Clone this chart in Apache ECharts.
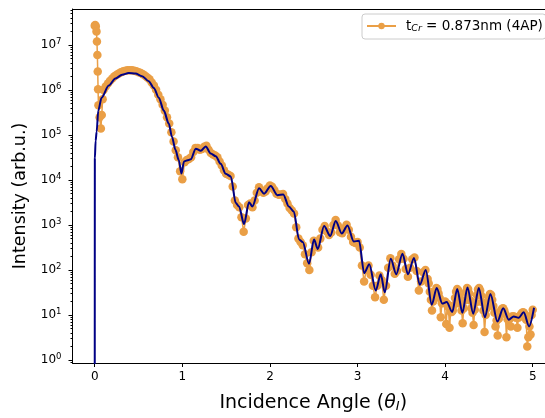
<!DOCTYPE html>
<html><head><meta charset="utf-8">
<script src="https://cdn.jsdelivr.net/npm/echarts@6/dist/echarts.min.js"></script>
<style>html,body{margin:0;padding:0;background:#fff}#c{width:545px;height:418px}</style>
</head><body><div id="c"></div>
<script>
// ---- values ----
const xTickValues = [0, 1, 2, 3, 4, 5];
const yTickExponents = [0, 1, 2, 3, 4, 5, 6, 7];
const seriesName = 'tCr = 0.873nm (4AP)';

// measured reflectivity [angle, intensity]
const measured = [
  [0.000,2.7e7],[0.005,2.8e7],[0.012,2.6e7],[0.020,2.0e7],[0.025,1.2e7],[0.030,6.0e6],[0.034,2.6e6],[0.038,1.05e6],
  [0.042,4.6e5],[0.055,2.5e5],[0.070,1.4e5],[0.080,2.8e5],[0.090,6.3e5],[0.100,1.0e6],
  [0.125,1.2e6],[0.150,1.41e6],[0.175,1.62e6],[0.200,1.82e6],[0.225,2.04e6],[0.250,2.19e6],[0.275,2.34e6],[0.300,2.51e6],
  [0.325,2.63e6],[0.350,2.69e6],[0.375,2.75e6],[0.400,2.75e6],[0.425,2.75e6],[0.450,2.69e6],[0.475,2.63e6],[0.500,2.51e6],
  [0.525,2.40e6],[0.550,2.24e6],[0.575,2.09e6],[0.600,1.91e6],[0.625,1.74e6],[0.650,1.48e6],[0.675,1.26e6],[0.700,1.02e6],
  [0.725,7.9e5],[0.750,6.3e5],[0.775,4.7e5],[0.800,3.5e5],[0.825,2.5e5],[0.850,1.82e5],[0.875,1.15e5],[0.900,7.2e4],
  [0.925,4.6e4],[0.950,3.2e4],[0.975,1.58e4],[1.000,1.05e4],[1.025,2.5e4],[1.050,2.8e4],[1.075,2.95e4],[1.100,3.2e4],
  [1.125,4.2e4],[1.150,5.2e4],[1.175,5.2e4],[1.200,4.7e4],[1.225,4.9e4],[1.250,5.5e4],[1.275,5.8e4],[1.300,4.7e4],
  [1.325,4.0e4],[1.350,3.7e4],[1.375,3.5e4],[1.400,3.2e4],[1.425,2.6e4],[1.450,2.1e4],[1.475,1.66e4],[1.500,1.38e4],
  [1.525,1.32e4],[1.550,1.23e4],[1.575,7.2e3],[1.600,3.5e3],[1.625,2.8e3],[1.650,2.5e3],[1.675,1.5e3],[1.700,710],
  [1.725,1.4e3],[1.750,2.8e3],[1.775,3.0e3],[1.800,2.5e3],[1.825,3.5e3],[1.850,5.2e3],[1.875,6.9e3],[1.900,6.0e3],
  [1.925,5.2e3],[1.950,5.6e3],[1.975,6.6e3],[2.000,7.6e3],[2.025,7.1e3],[2.050,6.0e3],[2.075,5.0e3],[2.100,4.7e3],
  [2.125,4.8e3],[2.150,4.9e3],[2.175,3.8e3],[2.200,3.0e3],[2.225,2.4e3],[2.250,2.1e3],[2.275,1.8e3],[2.300,890],
  [2.325,500],[2.350,420],[2.375,355],[2.400,225],[2.425,141],[2.450,100],[2.475,250],[2.500,450],
  [2.525,355],[2.550,316],[2.575,500],[2.600,790],[2.625,950],[2.650,720],[2.675,600],[2.700,680],
  [2.725,1000],[2.750,1290],[2.775,980],[2.800,690],[2.825,660],[2.850,850],[2.875,1020],[2.900,790],
  [2.925,550],[2.950,420],[2.975,400],[3.000,420],[3.025,316],[3.050,126],[3.075,56],[3.100,100],
  [3.125,126],[3.150,79],[3.175,45],[3.200,25],[3.225,45],[3.250,76],[3.275,60],[3.300,22],
  [3.325,45],[3.350,112],[3.375,182],[3.400,126],[3.425,83],[3.450,95],[3.475,174],[3.500,229],
  [3.525,178],[3.550,105],[3.575,71],[3.600,112],[3.625,174],[3.650,191],[3.675,95],[3.700,35],
  [3.725,56],[3.750,89],[3.775,100],
  [3.8000,63],[3.8125,50],[3.8250,33],[3.8375,22],[3.8500,12.6],[3.8625,20],[3.8750,26],[3.8875,34],
  [3.9000,40],[3.9125,38],[3.9250,30],[3.9375,24],[3.9500,8.9],[3.9625,18.2],[3.9750,18.6],[3.9875,19.5],
  [4.0000,20],[4.0125,6.3],[4.0250,17.8],[4.0375,15.1],[4.0500,5.2],[4.0625,11.7],[4.0750,11.7],[4.0875,12.6],
  [4.1000,16.6],[4.1125,24],[4.1250,33],[4.1375,38],[4.1500,35],[4.1625,26],[4.1750,17.8],[4.1875,12.6],
  [4.2000,6.6],[4.2125,14.1],[4.2250,21],[4.2375,32],[4.2500,40],[4.2625,38],[4.2750,30],[4.2875,21],
  [4.3000,14.1],[4.3125,11.2],[4.3250,6.0],[4.3375,13.2],[4.3500,19],[4.3625,28],[4.3750,37],[4.3875,40],
  [4.4000,35],[4.4125,27],[4.4250,19],[4.4375,12.6],[4.4500,4.2],[4.4625,10],[4.4750,14.1],[4.4875,20],
  [4.5000,26],[4.5125,29.5],[4.5250,28],[4.5375,22],[4.5500,15.8],[4.5625,11.2],[4.5750,5.6],[4.5875,7.6],
  [4.6000,3.5],[4.6125,8.3],[4.6250,10.5],[4.6375,12.6],[4.6500,13.8],[4.6625,14.1],[4.6750,12.6],[4.6875,10.5],
  [4.7000,3.2],[4.7125,8.1],[4.7250,7.9],[4.7375,8.3],[4.7500,5.6],[4.7625,9.3],[4.7750,9.3],[4.7875,9.3],
  [4.8000,8.9],[4.8125,8.7],[4.8250,5.2],[4.8375,8.7],[4.8500,9.3],[4.8625,10.2],[4.8750,11],[4.8875,11.5],
  [4.9000,11.2],[4.9125,10],[4.9250,7.9],[4.9375,2.0],[4.9500,3.2],[4.9625,5.6],[4.9750,3.7],[4.9875,10],
  [5.0000,13.2]
];

// fitted curve [angle, intensity]
const fitted = [
  [0.000,0.2],[0.001,3.0e4],[0.010,7.5e4],[0.022,1.2e5],[0.040,3.5e5],[0.078,6.8e5],[0.160,1.26e6],
  [0.236,1.82e6],[0.312,2.19e6],[0.388,2.4e6],[0.465,2.34e6],[0.540,2.04e6],[0.616,1.58e6],[0.674,1.12e6],[0.731,6.8e5],
  [0.788,3.5e5],[0.845,1.8e5],[0.882,9.1e4],[0.921,4.7e4],[0.959,2.8e4],[0.990,1.4e4],[1.019,2.6e4],[1.073,2.8e4],
  [1.096,2.9e4],[1.153,5.0e4],[1.210,4.5e4],[1.267,5.6e4],[1.324,3.9e4],[1.381,3.4e4],[1.438,2.3e4],[1.495,1.38e4],
  [1.553,1.2e4],[1.610,3.1e3],[1.647,2.6e3],[1.704,1.05e3],[1.761,3.2e3],[1.800,2.6e3],[1.876,6.6e3],[1.933,5.0e3],
  [2.009,7.4e3],[2.086,4.6e3],[2.152,4.8e3],[2.215,2.6e3],[2.272,2.0e3],[2.332,480],[2.374,420],[2.446,138],
  [2.503,480],[2.546,295],[2.618,950],[2.688,575],[2.751,1230],[2.820,650],[2.885,980],[2.957,430],
  [3.017,450],[3.076,85],[3.134,135],[3.208,35],[3.265,81],[3.311,32],[3.379,178],[3.442,81],
  [3.513,230],[3.576,81],[3.645,186],[3.710,47],[3.779,100],[3.847,17],[3.904,40],[3.967,18],
  [4.018,19.5],[4.081,11.7],[4.138,38],[4.197,11.2],[4.255,41],[4.321,10.7],[4.384,40],[4.454,8.9],
  [4.517,29.5],[4.597,7.2],[4.663,14.1],[4.726,7.9],[4.783,9.3],[4.840,8.7],[4.897,11.5],[4.958,5.6],
  [5.015,14.5]
];

// ---- chart ----
const FONT = 'DejaVu Sans';
const ORANGE = '#EA9F46';
const NAVY = '#000085';
const X_MIN = -0.254, X_MAX = 5.14;
const Y_MIN = 0.86, Y_MAX = 6.35e7;
const lmin = Math.log10(Y_MIN), lmax = Math.log10(Y_MAX);
const minorTicks = [];
for (let n = -1; n <= 7; n++) {
  for (let k = 2; k <= 9; k++) {
    const v = n + Math.log10(k);
    if (v >= lmin && v <= lmax) minorTicks.push(v);
  }
}

const chart = echarts.init(document.getElementById('c'), null, {renderer: 'canvas'});
chart.setOption({
  animation: false,
  backgroundColor: '#fff',
  grid: {left: 72.5, top: 9, right: 0, height: 359.7, show: false},
  legend: {
    data: [seriesName],
    left: 362, top: 14,
    padding: [5, 3, 5, 4],
    itemWidth: 29, itemHeight: 8,
    backgroundColor: 'rgba(255,255,255,0.8)',
    borderColor: '#cccccc', borderWidth: 1, borderRadius: 3,
    formatter: () => '{p|t}{s|Cr}{t| = 0.873nm (4AP)}',
    textStyle: {
      fontFamily: FONT, fontSize: 13.5, color: '#000',
      rich: {
        p: {fontFamily: FONT, fontSize: 13.5, lineHeight: 16, padding: [0, 0, 0, 5], color: '#000'},
        t: {fontFamily: FONT, fontSize: 13.5, lineHeight: 16, color: '#000'},
        s: {fontFamily: FONT, fontSize: 9.5, fontStyle: 'italic', lineHeight: 9, verticalAlign: 'bottom', color: '#000'}
      }
    }
  },
  xAxis: [{
    type: 'value', min: X_MIN, max: X_MAX, position: 'bottom',
    axisLine: {show: true, onZero: false, lineStyle: {color: '#000', width: 1}},
    axisTick: {show: true, length: 4, customValues: xTickValues, lineStyle: {color: '#000'}},
    axisLabel: {customValues: xTickValues, margin: 8, fontSize: 12, color: '#000', fontFamily: FONT},
    splitLine: {show: false},
    name: '{n|Incidence Angle (}{i|θ}{s|I}{n|)}',
    nameLocation: 'middle', nameGap: 30,
    nameTextStyle: {
      fontFamily: FONT, fontSize: 19, color: '#000', padding: [0, 0, 0, 9],
      rich: {
        n: {fontFamily: FONT, fontSize: 19, lineHeight: 20, color: '#000'},
        i: {fontFamily: FONT, fontSize: 19, fontStyle: 'italic', lineHeight: 20, color: '#000'},
        s: {fontFamily: FONT, fontSize: 13, fontStyle: 'italic', lineHeight: 11, verticalAlign: 'bottom', color: '#000'}
      }
    }
  }, {
    type: 'value', min: X_MIN, max: X_MAX, position: 'top',
    axisLine: {show: true, onZero: false, lineStyle: {color: '#000', width: 1}},
    axisTick: {show: false}, axisLabel: {show: false}, splitLine: {show: false}
  }],
  yAxis: [
    {
      type: 'log', min: Y_MIN, max: Y_MAX, logBase: 10,
      axisLine: {show: false, onZero: false}, axisTick: {show: false}, axisLabel: {show: false}, splitLine: {show: false}
    },
    {
      type: 'value', min: lmin, max: lmax, position: 'left',
      axisLine: {show: true, onZero: false, lineStyle: {color: '#000', width: 1}},
      axisTick: {show: true, length: 4, customValues: yTickExponents, lineStyle: {color: '#000'}},
      axisLabel: {
        customValues: yTickExponents, margin: 11, color: '#000', fontFamily: FONT,
        formatter: v => '{b|10}{e|' + Math.round(v) + '}',
        rich: {
          b: {fontFamily: FONT, fontSize: 12, lineHeight: 16, color: '#000'},
          e: {fontFamily: FONT, fontSize: 8.5, lineHeight: 9, verticalAlign: 'top', color: '#000'}
        }
      },
      splitLine: {show: false},
      name: 'Intensity (arb.u.)', nameLocation: 'middle', nameGap: 31,
      nameTextStyle: {fontFamily: FONT, fontSize: 17.5, color: '#000', padding: [0, 20, 0, 0]}
    },
    {
      type: 'value', min: lmin, max: lmax, position: 'left',
      axisLine: {show: false, onZero: false},
      axisTick: {show: true, length: 2, customValues: minorTicks, lineStyle: {color: '#000'}},
      axisLabel: {show: false}, splitLine: {show: false}
    }
  ],
  series: [
    {
      name: seriesName, type: 'line', xAxisIndex: 0, yAxisIndex: 0,
      data: measured, symbol: 'circle', symbolSize: 8.5, showSymbol: true,
      lineStyle: {color: ORANGE, width: 1.5}, itemStyle: {color: ORANGE},
      z: 2, clip: true
    },
    {
      name: 'fit', type: 'line', xAxisIndex: 0, yAxisIndex: 0,
      data: fitted, symbol: 'none', smooth: 0.3, smoothMonotone: 'x',
      lineStyle: {color: NAVY, width: 2}, z: 3, clip: true
    }
  ]
});
</script></body></html>
